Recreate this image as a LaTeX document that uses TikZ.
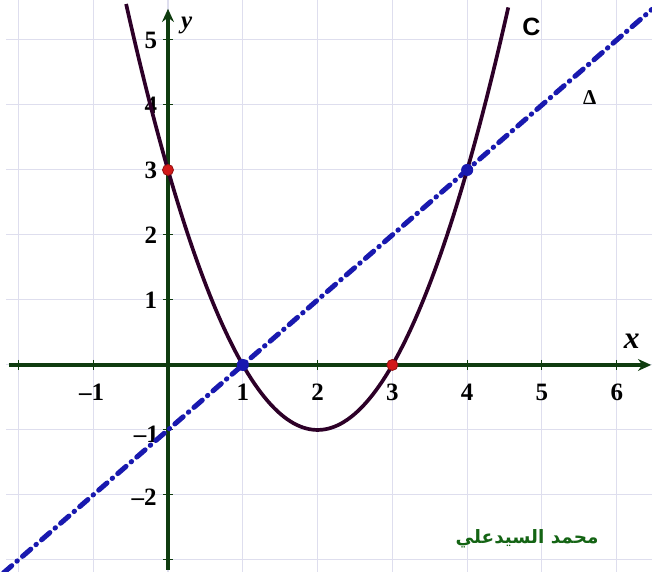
\documentclass[tikz,border=0pt]{standalone}
\usepackage{fontspec}
\setmainfont{Liberation Serif}
\newfontfamily\sansbold{Liberation Sans}
\newfontfamily\arabicfont[Script=Arabic]{DejaVu Sans}
\TeXXeTstate=1
\usetikzlibrary{arrows.meta}
\definecolor{AxisGreen}{RGB}{15,60,15}
\definecolor{CurvePurple}{RGB}{45,0,40}
\definecolor{LineBlue}{RGB}{25,25,175}
\definecolor{GridGray}{RGB}{222,222,238}
\definecolor{PtRed}{RGB}{210,25,25}
\definecolor{NameGreen}{RGB}{20,100,20}

\begin{document}
\begin{tikzpicture}[x=1cm, y=0.869cm, font=\fontsize{9.5}{10}\selectfont\bfseries,
	redpt/.style={circle, fill=PtRed, draw=PtRed!70!black, line width=0.3pt, inner sep=0pt, minimum size=4.2pt},
	bluept/.style={circle, fill=LineBlue, inner sep=0pt, minimum size=4.6pt}]
			\useasboundingbox (-2.246,-3.185) rectangle (6.471,5.615);
			\fill[white] (-2.246,-3.185) rectangle (6.471,5.615);
			% grid
			\foreach \t in {-2,...,6}
			\draw[GridGray, line width=0.4pt] (\t,-3.185) -- (\t,5.615);
			\foreach \t in {-3,...,5}
			\draw[GridGray, line width=0.4pt] (-2.16,\t) -- (6.471,\t);
			% axes
			\draw[AxisGreen, line width=1.4pt, -{Stealth[length=5pt, width=4.5pt]}] (-2.13,0) -- (6.46,0);
			\draw[AxisGreen, line width=1.4pt, -{Stealth[length=5pt, width=4.5pt]}] (0,-3.15) -- (0,5.48);
			\foreach \t in {-2,...,6}
			\draw[AxisGreen, line width=0.4pt] (\t,0.08) -- (\t,-0.08);
			\foreach \t in {-3,...,5}
			\draw[AxisGreen, line width=0.4pt] (-0.07,\t) -- (0.07,\t);
			\foreach \t in {1,...,6}
			\node (xl\t) at (\t,-0.42) {\t};
			\node (xlm1) at (-1.02,-0.42) {\textendash1};
			\foreach \t in {1,...,5}
			\node (yl\t) at (-0.23,\t) {\t};
			\node (ylm1) at (-0.29,-1.06) {\textendash1};
			\node (ylm2) at (-0.32,-2.03) {\textendash2};
			\node (ylab) at (0.25,5.23) {\itshape y};
			\node (xlab) at (6.2,0.36) {\fontsize{12}{13}\selectfont\itshape x};
			% line and curve
			\draw[LineBlue, line width=1.9pt, line cap=round,
				dash pattern=on 4.2pt off 2.6pt on 0.2pt off 2.6pt] (-2.2,-3.2) -- (6.47,5.47);
			\draw[CurvePurple, line width=1.4pt, domain=-0.56:4.55, samples=120]
				plot (\x, {\x*\x-4*\x+3});
			\node (C) at (4.86,5.2) {\sansbold\bfseries C};
			\node (D) at (5.64,4.12) {\fontsize{8}{9}\selectfont Δ};
			% points
			\node[redpt] (A) at (0,3) {};
			\node[redpt] (B) at (3,0) {};
			\node[bluept] (E) at (1,0) {};
			\node[bluept] (F) at (4,3) {};
			\node[text=NameGreen] (name) at (4.8,-2.68) {\fontsize{7}{8}\selectfont\arabicfont\bfseries\beginR محمد السيدعلي\endR};
		\end{tikzpicture}
\end{document}
